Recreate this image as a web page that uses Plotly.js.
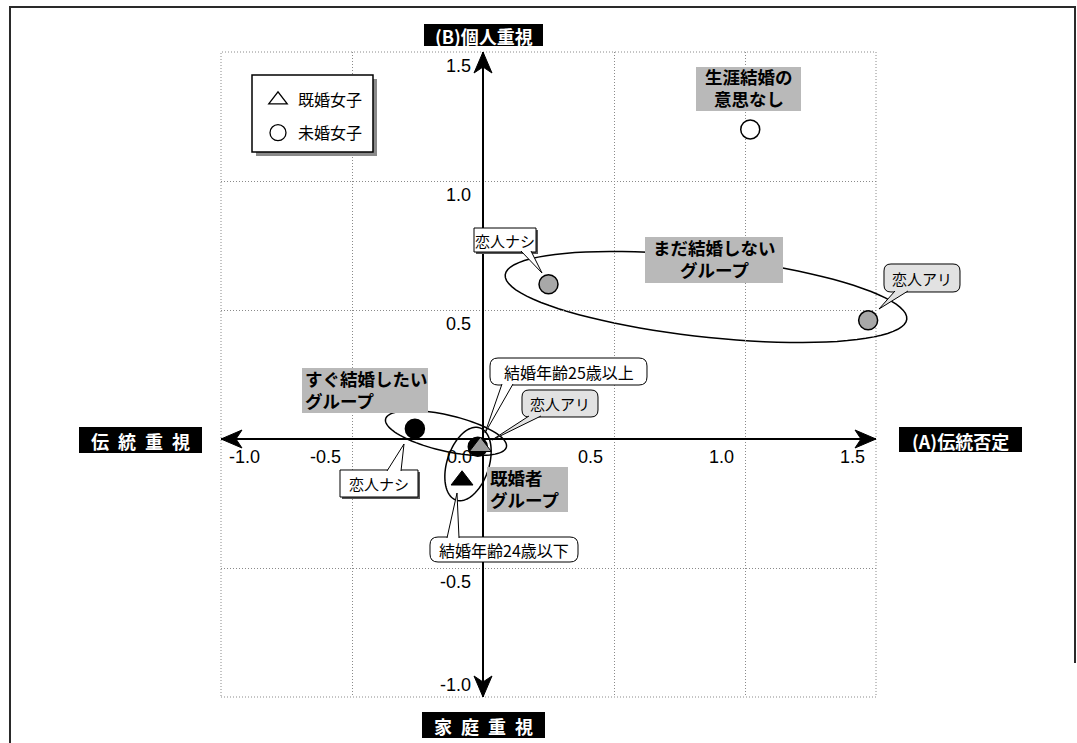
<!DOCTYPE html>
<html>
<head>
<meta charset="utf-8">
<script src="https://cdn.plot.ly/plotly-3.0.1.min.js"></script>
<style>
  html, body { margin: 0; padding: 0; background: #fff; }
  #chart { width: 1077px; height: 743px; }
</style>
</head>
<body>
<div id="chart"></div>
<script>
// 既婚女子 (triangles)
const marriedNames = ['結婚年齢25歳以上', '結婚年齢24歳以下']
const marriedX = [-0.01, -0.08]
const marriedY = [-0.03, -0.16]
const marriedFill = ['#9c9c9c', '#000000']

// 未婚女子 (circles)
const singleNames = ['生涯結婚の意思なし', 'まだ結婚しない・恋人ナシ', 'まだ結婚しない・恋人アリ',
  'すぐ結婚したい・恋人ナシ', 'すぐ結婚したい・恋人アリ']
const singleX = [1.02, 0.25, 1.47, -0.26, -0.02]
const singleY = [1.20, 0.60, 0.46, 0.04, -0.03]
const singleFill = ['#ffffff', '#a8a8a8', '#a8a8a8', '#000000', '#000000']

const xTicks = [-1.0, -0.5, 0.0, 0.5, 1.0, 1.5]
const yTicks = [-1.0, -0.5, 0.5, 1.0, 1.5]
const legendNames = ['既婚女子', '未婚女子']

const jp = '"Noto Sans CJK JP", "Noto Sans", sans-serif'
// tight line metrics from the latin font, japanese glyphs from the CJK fallback
const jpTight = '"Liberation Sans", "Noto Sans CJK JP", sans-serif'
const num = '"Liberation Sans", Arial, sans-serif'

// PLOT GEOMETRY (pixels of the page)
const W = 1077, H = 743
const plotL = 221, plotR = 876, plotT = 52, plotB = 697
const xRange = [-1.0, 1.5], yRange = [-1.0, 1.5]

function x2px(x) { return plotL + (x - xRange[0]) / (xRange[1] - xRange[0]) * (plotR - plotL) }
function y2py(y) { return plotB - (y - yRange[0]) / (yRange[1] - yRange[0]) * (plotB - plotT) }
function paperX(px) { return (px - plotL) / (plotR - plotL) }
function paperY(py) { return (plotB - py) / (plotB - plotT) }
function P(x, y) { return paperX(x).toFixed(5) + ',' + paperY(y).toFixed(5) }

function pathPx(pts, close) {
  return pts.map((p, i) => (i ? 'L' : 'M') + P(p[0], p[1])).join(' ') + (close ? ' Z' : '')
}

function roundRect(x0, y0, x1, y1, r) {
  if (!r) return pathPx([[x0, y0], [x1, y0], [x1, y1], [x0, y1]], true)
  return 'M' + P(x0 + r, y0) + ' L' + P(x1 - r, y0) + ' Q' + P(x1, y0) + ' ' + P(x1, y0 + r) +
    ' L' + P(x1, y1 - r) + ' Q' + P(x1, y1) + ' ' + P(x1 - r, y1) +
    ' L' + P(x0 + r, y1) + ' Q' + P(x0, y1) + ' ' + P(x0, y1 - r) +
    ' L' + P(x0, y0 + r) + ' Q' + P(x0, y0) + ' ' + P(x0 + r, y0) + ' Z'
}

function ellipse(cx, cy, a, b, deg) {
  let t = deg * Math.PI / 180
  let pts = []
  for (let i = 0; i < 90; i++) {
    let u = i / 90 * 2 * Math.PI
    let ex = a * Math.cos(u), ey = b * Math.sin(u)
    pts.push([cx + ex * Math.cos(t) - ey * Math.sin(t), cy + ex * Math.sin(t) + ey * Math.cos(t)])
  }
  return pathPx(pts, true)
}

function arrowHead(tx, ty, dx, dy) {
  let len = 21, half = 9, notch = 15
  let nx = -dy, ny = dx
  let bx = tx - dx * len, by = ty - dy * len
  return pathPx([[tx, ty], [bx + nx * half, by + ny * half], [tx - dx * notch, ty - dy * notch],
    [bx - nx * half, by - ny * half]], true)
}

let shapes = []
let annotations = []

function paperShape(path, fill, lineColor, lineWidth, layer) {
  shapes.push({
    type: 'path', xref: 'paper', yref: 'paper', path: path, layer: layer || 'above',
    fillcolor: fill || 'rgba(0,0,0,0)',
    line: { color: lineColor || 'rgba(0,0,0,0)', width: lineWidth || 0 }
  })
}

function text(str, px, py, size, opts) {
  opts = opts || {}
  annotations.push({
    xref: 'paper', yref: 'paper', x: paperX(px), y: paperY(py), text: str, showarrow: false,
    xanchor: opts.xanchor || 'center', yanchor: opts.yanchor || 'middle', align: opts.align || 'center',
    borderpad: 0,
    font: { family: opts.family || jp, size: size, color: opts.color || '#000' }
  })
}

// OUTER FRAME
paperShape(pathPx([[10, 743], [10, 7], [1075, 7], [1075, 663]], false), null, '#2a2a2a', 2)

// DOTTED BORDER OF THE PLOT AREA
shapes.push({
  type: 'rect', xref: 'paper', yref: 'paper', x0: 0, x1: 1, y0: 0, y1: 1, layer: 'below',
  line: { color: '#8a8a8a', width: 1, dash: '1px,2px' }
})

// AXES WITH ARROWS AT BOTH ENDS
let ox = x2px(0), oy = y2py(0)
shapes.push({ type: 'line', xref: 'x', yref: 'y', x0: xRange[0], x1: xRange[1], y0: 0, y1: 0, layer: 'between', line: { color: '#000', width: 2 } })
shapes.push({ type: 'line', xref: 'x', yref: 'y', x0: 0, x1: 0, y0: yRange[0], y1: yRange[1], layer: 'between', line: { color: '#000', width: 2 } })
paperShape(arrowHead(x2px(xRange[1]), oy, 1, 0), '#000', '#000', 1, 'between')
paperShape(arrowHead(x2px(xRange[0]), oy, -1, 0), '#000', '#000', 1, 'between')
paperShape(arrowHead(ox, y2py(yRange[1]), 0, -1), '#000', '#000', 1, 'between')
paperShape(arrowHead(ox, y2py(yRange[0]), 0, 1), '#000', '#000', 1, 'between')

// GROUP ELLIPSES
paperShape(ellipse(706, 297, 202, 40, 6.3), null, '#000', 1.5, 'between')
paperShape(ellipse(446, 433, 62, 18, 13), null, '#000', 1.5, 'between')
paperShape(ellipse(468, 464, 38, 21, -72), null, '#000', 1.5, 'between')

// TICK LABELS ALONG THE AXES
xTicks.forEach(v => {
  annotations.push({
    xref: 'x', yref: 'y', x: v, y: 0, text: v.toFixed(1), showarrow: false,
    xanchor: v == xRange[0] ? 'left' : 'right', xshift: v == xRange[0] ? 6 : -9,
    yanchor: 'middle', yshift: -18,
    font: { family: num, size: 18, color: '#000' }
  })
})
yTicks.forEach(v => {
  annotations.push({
    xref: 'x', yref: 'y', x: 0, y: v, text: v.toFixed(1), showarrow: false,
    xanchor: 'right', xshift: -10,
    yanchor: v == yRange[0] ? 'bottom' : 'top', yshift: v == yRange[0] ? 0 : -2,
    font: { family: num, size: 18, color: '#000' }
  })
})

// AXIS TITLES (white on black)
const axisTitles = [
  { t: '(B)個人重視', box: [424, 24, 543, 46] },
  { t: '(A)伝統否定', box: [899, 427, 1022, 452] },
  { t: '伝\u2002統\u2002重\u2002視', box: [79, 427, 202, 453] },
  { t: '家\u2002庭\u2002重\u2002視', box: [422, 712, 545, 738] }
]
axisTitles.forEach(a => {
  let b = a.box
  paperShape(roundRect(b[0], b[1], b[2], b[3], 0), '#000', null, 0)
  text('<b>' + a.t + '</b>', (b[0] + b[2]) / 2, (b[1] + b[3]) / 2 + 1, 18, { color: '#fff' })
})

// GROUP LABELS (gray boxes, one annotation per line)
const groupLabels = [
  { lines: ['生涯結婚の', '意思なし'], box: [696, 67, 801, 111] },
  { lines: ['まだ結婚しない', 'グループ'], box: [645, 237, 783, 283] },
  { lines: ['すぐ結婚したい', 'グループ'], box: [302, 368, 428, 413], left: true },
  { lines: ['既婚者', 'グループ'], box: [487, 467, 568, 512], left: true }
]
groupLabels.forEach(g => {
  let b = g.box
  let cy = (b[1] + b[3]) / 2
  paperShape(roundRect(b[0], b[1], b[2], b[3], 0), '#b9b9b9', null, 0)
  g.lines.forEach((line, i) => {
    let py = cy + (i - (g.lines.length - 1) / 2) * 22
    if (g.left) {
      text('<b>' + line + '</b>', b[0] + 2, py, 17.5, { xanchor: 'left', align: 'left', family: jpTight })
    } else {
      text('<b>' + line + '</b>', (b[0] + b[2]) / 2, py, 17.5, { family: jpTight })
    }
  })
})

// CALLOUTS WITH A POINTED TAIL
const callouts = [
  { t: '恋人ナシ', box: [474, 228, 536, 252], r: 0, fill: '#ffffff', size: 15, tail: [[521, 251], [542, 273], [531, 251]] },
  { t: '恋人アリ', box: [884, 264, 960, 292], r: 7, fill: '#e2e2e2', size: 15, tail: [[895, 291], [879, 309], [908, 291]] },
  { t: '結婚年齢25歳以上', box: [490, 358, 647, 385], r: 8, fill: '#ffffff', size: 16, tail: [[502, 384], [485, 433], [513, 384]] },
  { t: '恋人アリ', box: [522, 390, 598, 417], r: 7, fill: '#e2e2e2', size: 15, tail: [[529, 416], [492, 440], [541, 416]] },
  { t: '恋人ナシ', box: [340, 470, 418, 497], r: 0, fill: '#ffffff', size: 15, tail: [[387, 471], [404, 444], [401, 471]] },
  { t: '結婚年齢24歳以下', box: [430, 537, 578, 562], r: 8, fill: '#ffffff', size: 16, tail: [[447, 538], [457, 493], [459, 538]] }
]
callouts.forEach(c => {
  let b = c.box
  if (!c.r) paperShape(roundRect(b[0] + 2, b[1] + 2, b[2] + 2, b[3] + 2, 0), '#555', null, 0)
  paperShape(roundRect(b[0], b[1], b[2], b[3], c.r), c.fill, '#000', 1)
  paperShape(pathPx(c.tail, true), c.fill, null, 0)
  paperShape(pathPx(c.tail, false), null, '#000', 1)
  text(c.t, (b[0] + b[2]) / 2, (b[1] + b[3]) / 2, c.size)
})

// LEGEND BOX WITH SHADOW (items come from the legend itself)
paperShape(roundRect(256, 79, 377, 156, 0), '#8a8a8a', null, 0)
paperShape(roundRect(252, 75, 373, 152, 0), '#ffffff', '#000', 1.5)

let data = [
  {
    type: 'scatter', mode: 'markers', x: singleX, y: singleY, text: singleNames,
    hoverinfo: 'text', showlegend: false, cliponaxis: false,
    marker: { symbol: 'circle', size: 19, color: singleFill, line: { color: '#000', width: 1.5 } }
  },
  {
    type: 'scatter', mode: 'markers', x: marriedX, y: marriedY, text: marriedNames,
    hoverinfo: 'text', showlegend: false, cliponaxis: false,
    marker: { symbol: 'triangle-up', size: 19, color: marriedFill, line: { color: '#000', width: 1 } }
  },
  {
    type: 'scatter', mode: 'markers', x: [null], y: [null], name: legendNames[0], legendgroup: 'a',
    marker: { symbol: 'triangle-up-open', size: 16, color: '#000', line: { width: 1.3 } }
  },
  {
    type: 'scatter', mode: 'markers', x: [null], y: [null], name: legendNames[1], legendgroup: 'b',
    marker: { symbol: 'circle-open', size: 16, color: '#000', line: { width: 1.3 } }
  }
]

let gridAxis = {
  showticklabels: false, ticks: '', showgrid: true, gridcolor: '#8a8a8a', griddash: '1px,2px',
  gridwidth: 1, zeroline: false, showline: false, fixedrange: true
}

let layout = {
  width: W, height: H,
  margin: { l: plotL, r: W - plotR, t: plotT, b: H - plotB, pad: 0 },
  paper_bgcolor: '#ffffff', plot_bgcolor: '#ffffff',
  xaxis: Object.assign({ range: xRange, tickvals: xTicks }, gridAxis),
  yaxis: Object.assign({ range: yRange, tickvals: yTicks }, gridAxis),
  showlegend: true,
  legend: {
    x: paperX(258), y: paperY(83), xanchor: 'left', yanchor: 'top',
    bgcolor: 'rgba(0,0,0,0)', borderwidth: 0, tracegroupgap: 9, itemwidth: 30,
    font: { family: jp, size: 16, color: '#000' }
  },
  shapes: shapes,
  annotations: annotations
}

Plotly.newPlot('chart', data, layout, { displayModeBar: false, staticPlot: true })
</script>
</body>
</html>
